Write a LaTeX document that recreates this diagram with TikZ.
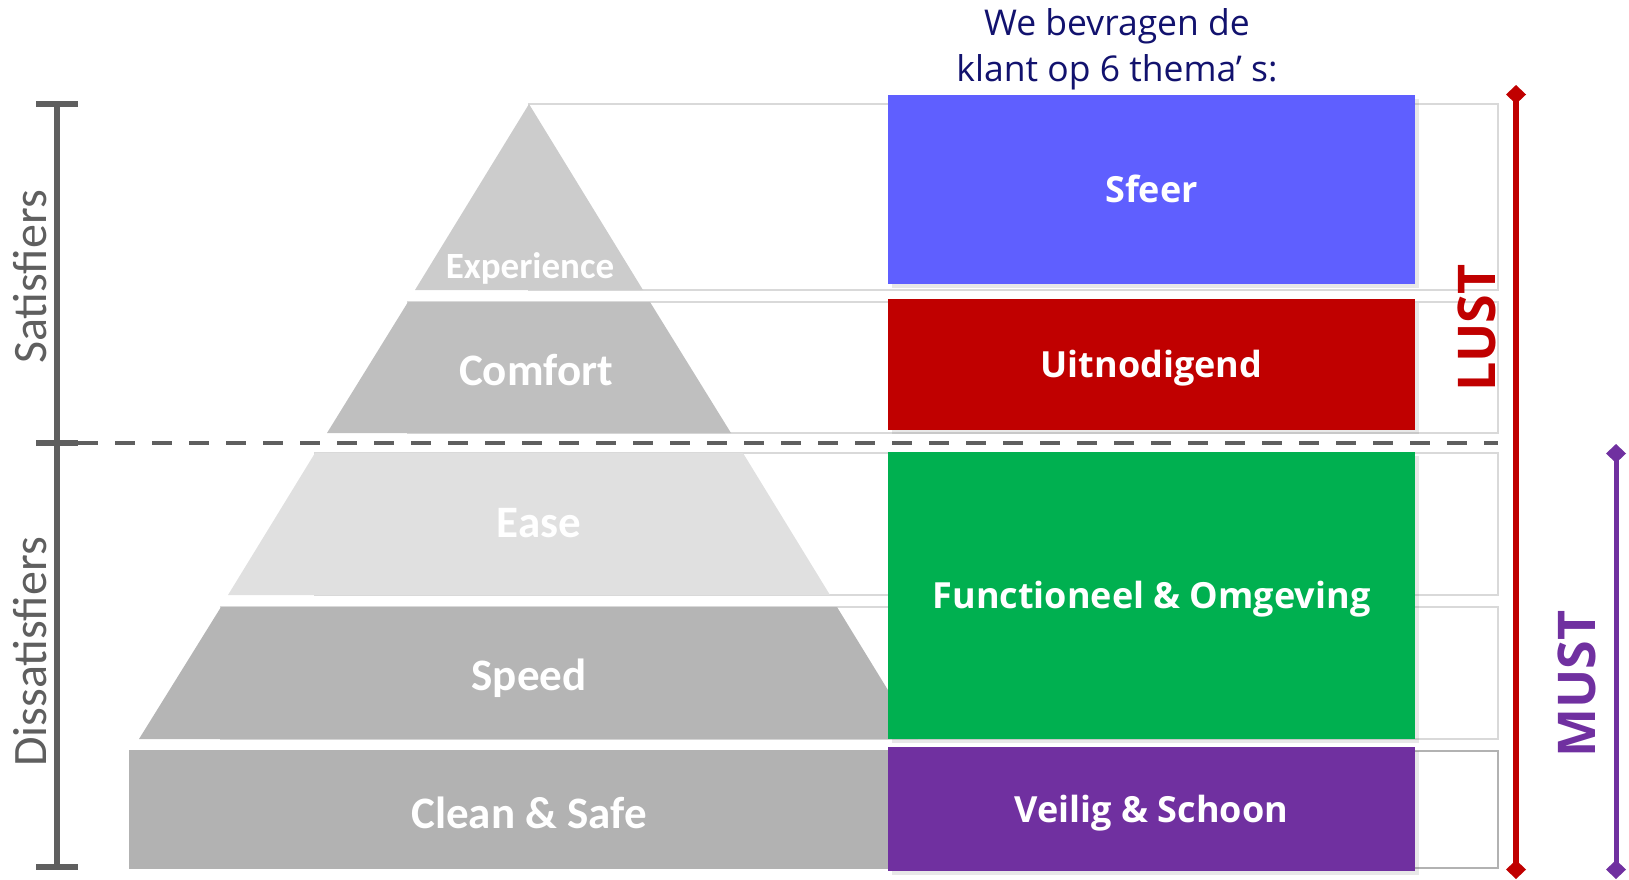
\documentclass[tikz,border=0pt]{standalone}
\usepackage{fontspec}
\setmainfont{Open Sans}
\newfontfamily\calibri{Carlito}
\usetikzlibrary{positioning, arrows.meta, shadows}

\definecolor{sfeerblue}{HTML}{5F5FFF}
\definecolor{lustred}{HTML}{C00000}
\definecolor{functgreen}{HTML}{00B050}
\definecolor{mustpurple}{HTML}{7030A0}
\definecolor{headnavy}{HTML}{12126E}
\definecolor{axisgray}{HTML}{5F5F5F}

\begin{document}
\begin{tikzpicture}[x=1pt, y=-1pt, every node/.style={inner sep=0pt, outer sep=0pt},
    theme/.style={fill=#1, text=white, anchor=north west, minimum width=527pt,
        font=\bfseries\fontsize{36}{40}\selectfont, text height=26pt, text depth=0pt,
        drop shadow={shadow xshift=4pt, shadow yshift=-4pt, opacity=.18}},
    layer/.style={text=white, font=\calibri\bfseries\fontsize{#1}{#1}\selectfont},
    row/.style={draw=black!15, line width=1.5pt},
    side/.style={rotate=90, text=axisgray, font=\calibri\fontsize{48}{52}\selectfont},
    span/.style={line width=6pt, {Diamond[width=20pt,length=19pt]}-{Diamond[width=20pt,length=19pt]}},
    bar/.style={draw=axisgray, line width=6pt}]
    \useasboundingbox (0,0) rectangle (1629,879);

    \draw[row] (529,104) rectangle (1498,290);
    \draw[row] (408,302) rectangle (1498,433);
    \draw[row] (315,453) rectangle (1498,595);
    \draw[row] (221,607) rectangle (1498,739);
    \draw[row, draw=black!30, line width=2.5pt] (130,751) rectangle (1498,868);

    \fill[black!20] (529,104) -- (643,290) -- (415,290) -- cycle;
    \fill[black!25] (408,302) -- (650,302) -- (731,433) -- (327,433) -- cycle;
    \fill[black!12] (315,453) -- (743,453) -- (830,595) -- (228,595) -- cycle;
    \fill[black!29] (221,607) -- (837,607) -- (918,739) -- (139,739) -- cycle;
    \fill[black!30] (130,751) rectangle (888,868);

    \node[layer=37] (experience) at (530,268) {Experience};
    \node[layer=45] (comfort) at (536,370) {Comfort};
    \node[layer=45] (ease) at (539,523) {Ease};
    \node[layer=45] (speed) at (529,678) {Speed};
    \node[layer=45] (clean) at (529,813) {Clean \& Safe};

    \node[theme=sfeerblue, minimum height=189pt] (sfeer) at (888,95) {Sfeer};
    \node[theme=lustred, minimum height=131pt] (uitnodigend) at (888,299) {Uitnodigend};
    \node[theme=functgreen, minimum height=287pt] (functioneel) at (888,452) {Functioneel \& Omgeving};
    \node[theme=mustpurple, minimum height=124pt] (veilig) at (888,747) {Veilig \& Schoon};

    \node[text=headnavy, align=center, font=\fontsize{35.5}{46}\selectfont] (vraag) at (1117,49)
        {We bevragen de\\klant op 6 thema’ s:};

    \draw[axisgray, line width=4.5pt, dash pattern=on 20pt off 17pt] (78,443) -- (1498,443);

    \coordinate (bartop) at (57,104);
    \coordinate (barmid) at (57,443);
    \coordinate (barbot) at (57,867);
    \draw[bar] (bartop) -- (barbot);
    \draw[bar] (36,104) -- (78,104) (36,443) -- (78,443) (36,867) -- (78,867);
    \node[side] (satisfiers) at (30,277) {Satisfiers};
    \node[side] (dissatisfiers) at (30,652) {Dissatisfiers};

    \coordinate (lusttop) at (1516,85);
    \coordinate (lustbot) at (1516,879);
    \coordinate (musttop) at (1616,444);
    \coordinate (mustbot) at (1616,879);
    \draw[span, lustred] (lusttop) -- (lustbot);
    \draw[span, mustpurple, line width=5pt] (musttop) -- (mustbot);

    \node[rotate=90, text=lustred, font=\bfseries\fontsize{52}{56}\selectfont] (lust) at (1477,328) {LUST};
    \node[rotate=90, text=mustpurple, font=\bfseries\fontsize{52}{56}\selectfont] (must) at (1577,684) {MUST};
\end{tikzpicture}
\end{document}
